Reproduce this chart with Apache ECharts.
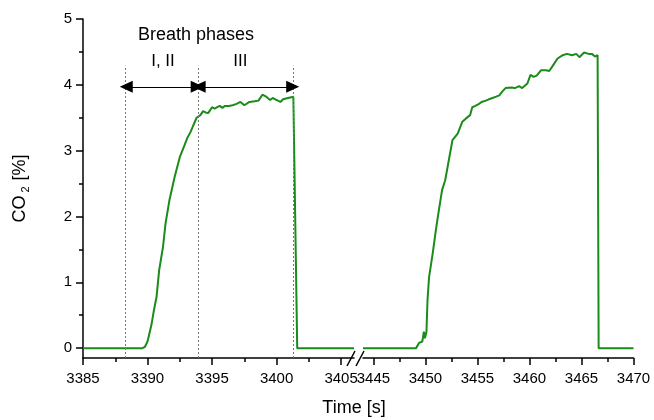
<!DOCTYPE html>
<html>
<head>
<meta charset="utf-8">
<script src="https://cdn.jsdelivr.net/npm/echarts@6/dist/echarts.min.js"></script>
<style>html,body{margin:0;padding:0;background:#fff}#c{width:654px;height:420px}</style>
</head>
<body>
<div id="c"></div>
<script>
// ---- data ----
var leftTime = [3385, 3389.6, 3389.8, 3390.0, 3390.3, 3390.5, 3390.7, 3390.75, 3390.9, 3391.2, 3391.4, 3391.7, 3392.1, 3392.5, 3392.9, 3393.1, 3393.3, 3393.5, 3393.8, 3394.1, 3394.3, 3394.5, 3394.7, 3395.0, 3395.2, 3395.4, 3395.6, 3395.8, 3396.0, 3396.3, 3396.6, 3396.9, 3397.2, 3397.5, 3397.9, 3398.3, 3398.6, 3398.9, 3399.2, 3399.5, 3399.7, 3399.9, 3400.3, 3400.5, 3400.9, 3401.3, 3401.4, 3401.6, 3406];
var leftCO2 = [0, 0, 0.02, 0.1, 0.35, 0.58, 0.78, 0.8, 1.18, 1.54, 1.9, 2.25, 2.6, 2.9, 3.1, 3.2, 3.27, 3.36, 3.5, 3.54, 3.6, 3.58, 3.57, 3.66, 3.64, 3.66, 3.68, 3.65, 3.68, 3.68, 3.69, 3.71, 3.74, 3.69, 3.74, 3.75, 3.76, 3.85, 3.82, 3.77, 3.80, 3.78, 3.74, 3.78, 3.80, 3.82, 3.8, 0, 0];
var rightTime = [3444, 3449.1, 3449.4, 3449.55, 3449.7, 3449.85, 3449.95, 3450.1, 3450.2, 3450.35, 3450.7, 3451.0, 3451.25, 3451.6, 3451.9, 3452.3, 3452.6, 3453.1, 3453.55, 3453.9, 3454.3, 3454.5, 3454.8, 3455.15, 3455.4, 3455.8, 3456.1, 3456.45, 3456.8, 3457.1, 3457.4, 3457.7, 3458.3, 3458.6, 3459.0, 3459.3, 3459.8, 3460.1, 3460.4, 3460.7, 3461.1, 3461.6, 3461.9, 3462.2, 3462.7, 3463.2, 3463.6, 3464.1, 3464.5, 3464.8, 3465.25, 3465.7, 3466.0, 3466.3, 3466.4, 3466.55, 3466.65, 3470];
var rightCO2 = [0, 0, 0.08, 0.05, 0.1, 0.25, 0.15, 0.25, 0.73, 1.08, 1.44, 1.79, 2.05, 2.4, 2.55, 2.9, 3.16, 3.26, 3.44, 3.49, 3.54, 3.66, 3.68, 3.71, 3.74, 3.76, 3.78, 3.80, 3.82, 3.84, 3.9, 3.95, 3.96, 3.95, 3.98, 3.95, 4.02, 4.15, 4.12, 4.14, 4.22, 4.22, 4.21, 4.28, 4.40, 4.45, 4.47, 4.45, 4.47, 4.42, 4.49, 4.47, 4.47, 4.43, 4.46, 4.45, 0, 0];

var leftMajorTicks = [3385, 3390, 3395, 3400, 3405];
var leftMinorTicks = [3387.5, 3392.5, 3397.5, 3402.5];
var rightMajorTicks = [3445, 3450, 3455, 3460, 3465, 3470];
var rightMinorTicks = [3447.5, 3452.5, 3457.5, 3462.5, 3467.5];
var yMajorTicks = [0, 1, 2, 3, 4, 5];
var yMinorTicks = [0.5, 1.5, 2.5, 3.5, 4.5];

var phaseBounds = [3388.3, 3393.9, 3401.3];   // dotted phase boundaries (s)
var phaseLineTop = 4.29;
var arrowLevel = 3.97;
var phaseLabels = ['I, II', 'III'];
var phaseLabelPos = [[3391.2, 4.35], [3397.2, 4.35]];
var headerText = 'Breath phases';
var headerPos = [3393.75, 4.76];

// ---- chart ----
var FONT = '"Liberation Sans", Arial, Helvetica, sans-serif';
var GREEN = '#1a8c1a';
var Y_MIN = -0.15, Y_MAX = 5;

function zip(a, b) { return a.map(function (v, i) { return [v, b[i]]; }); }

var axisLine = { show: true, onZero: false, lineStyle: { color: '#000', width: 1.5 } };

function xMajor(grid, min, max, ticks) {
  return {
    type: 'value', gridIndex: grid, min: min, max: max, position: 'bottom',
    axisLine: axisLine,
    axisTick: { show: true, inside: false, length: 7, lineStyle: { color: '#000', width: 1.5 }, customValues: ticks },
    axisLabel: { show: true, margin: 13, fontSize: 15, color: '#000', fontFamily: FONT, customValues: ticks,
      formatter: function (v) { return String(v); } },
    splitLine: { show: false }
  };
}
function xMinor(grid, min, max, ticks) {
  return {
    type: 'value', gridIndex: grid, min: min, max: max, position: 'bottom',
    axisLine: { show: false, onZero: false },
    axisTick: { show: true, inside: false, length: 4, lineStyle: { color: '#000', width: 1.5 }, customValues: ticks },
    axisLabel: { show: false },
    splitLine: { show: false }
  };
}

var markLineData = [];
phaseBounds.forEach(function (b) {
  markLineData.push([{ coord: [b, Y_MIN] }, { coord: [b, phaseLineTop] }]);
});
var arrowData = [
  [{ coord: [phaseBounds[0] + 0.05, arrowLevel] }, { coord: [phaseBounds[1] - 0.05, arrowLevel] }],
  [{ coord: [phaseBounds[1] + 0.1, arrowLevel] }, { coord: [phaseBounds[2] - 0.05, arrowLevel] }]
];

var markPoints = [{ coord: headerPos, value: headerText, label: { fontSize: 18 } }];
phaseLabels.forEach(function (t, i) {
  markPoints.push({ coord: phaseLabelPos[i], value: t, label: { fontSize: 17 } });
});

var chart = echarts.init(document.getElementById('c'), null, { renderer: 'canvas' });
chart.setOption({
  animation: false,
  backgroundColor: '#fff',
  grid: [
    { left: 83, top: 19, width: 271, bottom: 62, containLabel: false },
    { left: 363, top: 19, right: 20.5, bottom: 62, containLabel: false }
  ],
  xAxis: [
    xMajor(0, 3385, 3406, leftMajorTicks),
    xMinor(0, 3385, 3406, leftMinorTicks),
    xMajor(1, 3444, 3470, rightMajorTicks),
    xMinor(1, 3444, 3470, rightMinorTicks)
  ],
  yAxis: [
    {
      type: 'value', gridIndex: 0, min: Y_MIN, max: Y_MAX, position: 'left',
      name: '{a|CO}{s|2}{a|[%]}', nameLocation: 'middle', nameRotate: 90, nameGap: 52,
      nameTextStyle: {
        fontFamily: FONT, color: '#000', fontSize: 18,
        rich: {
          a: { fontFamily: FONT, fontSize: 18, color: '#000', lineHeight: 22 },
          s: { fontFamily: FONT, fontSize: 11, color: '#000', verticalAlign: 'bottom', lineHeight: 12, padding: [0, 6, 0, 3] }
        }
      },
      axisLine: axisLine,
      axisTick: { show: true, inside: false, length: 7, lineStyle: { color: '#000', width: 1.5 }, customValues: yMajorTicks },
      axisLabel: { show: true, margin: 11, fontSize: 15, color: '#000', fontFamily: FONT, customValues: yMajorTicks },
      splitLine: { show: false }
    },
    {
      type: 'value', gridIndex: 0, min: Y_MIN, max: Y_MAX, position: 'left',
      axisLine: { show: false, onZero: false },
      axisTick: { show: true, inside: false, length: 4, lineStyle: { color: '#000', width: 1.5 }, customValues: yMinorTicks },
      axisLabel: { show: false },
      splitLine: { show: false }
    },
    {
      type: 'value', gridIndex: 1, min: Y_MIN, max: Y_MAX, show: false,
      splitLine: { show: false }
    }
  ],
  series: [
    {
      type: 'line', xAxisIndex: 0, yAxisIndex: 0, data: zip(leftTime, leftCO2),
      showSymbol: false, symbol: 'none', lineStyle: { color: GREEN, width: 2 }, z: 3,
      markLine: {
        silent: true, symbol: ['none', 'none'], animation: false,
        label: { show: false },
        lineStyle: { color: '#777', type: [2, 2], width: 1 },
        data: markLineData
      },
      markPoint: {
        symbol: 'circle', symbolSize: 0, silent: true,
        label: { show: true, position: 'inside', color: '#000', fontFamily: FONT, formatter: function (p) { return p.value; } },
        data: markPoints
      }
    },
    {
      type: 'line', xAxisIndex: 0, yAxisIndex: 0, data: [],
      markLine: {
        silent: true, symbol: ['triangle', 'triangle'], symbolSize: [12, 13], animation: false,
        label: { show: false },
        lineStyle: { color: '#000', type: 'solid', width: 1 },
        itemStyle: { color: '#000' },
        data: arrowData
      }
    },
    {
      type: 'line', xAxisIndex: 2, yAxisIndex: 2, data: zip(rightTime, rightCO2),
      showSymbol: false, symbol: 'none', lineStyle: { color: GREEN, width: 2 }, z: 3
    }
  ]
});

// axis break marks and x-axis title
var pL = chart.convertToPixel({ xAxisIndex: 0, yAxisIndex: 0 }, [3406, Y_MIN]);
var pR = chart.convertToPixel({ xAxisIndex: 2, yAxisIndex: 2 }, [3444, Y_MIN]);
var yb = pL[1];
var cx1 = pL[0] - 3, cx2 = pR[0] - 3;
chart.setOption({
  graphic: [
    { type: 'line', shape: { x1: cx1 - 4, y1: yb + 8, x2: cx1 + 4, y2: yb - 7 }, style: { stroke: '#000', lineWidth: 1.5 } },
    { type: 'line', shape: { x1: cx2 - 4, y1: yb + 8, x2: cx2 + 4, y2: yb - 7 }, style: { stroke: '#000', lineWidth: 1.5 } },
    { type: 'text', x: 354, y: 408, style: { text: 'Time [s]', font: '18px ' + FONT, fill: '#000', textAlign: 'center', textVerticalAlign: 'middle' } }
  ]
});
</script>
</body>
</html>
